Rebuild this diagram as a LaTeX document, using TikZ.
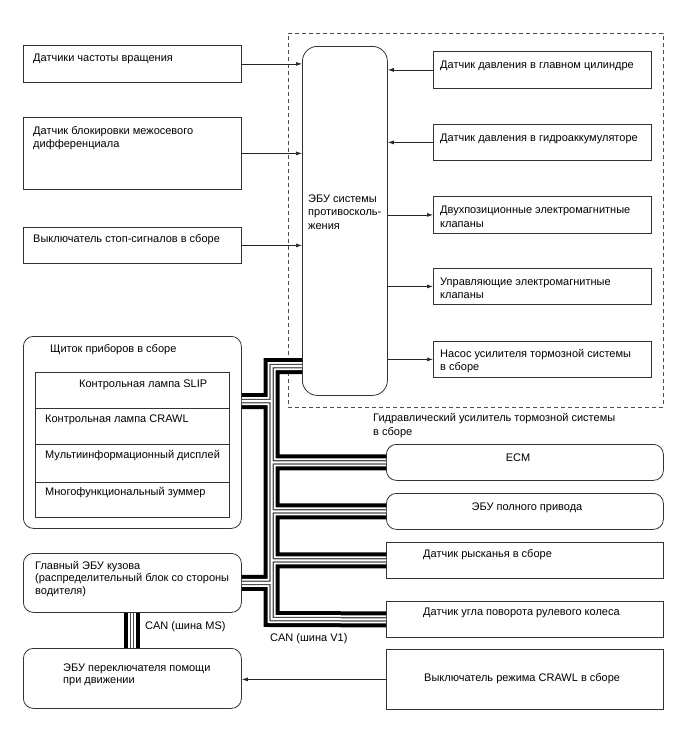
\documentclass[tikz,border=0pt]{standalone}
\usepackage{fontspec}
\setmainfont{Liberation Sans}
\usetikzlibrary{arrows.meta}
\begin{document}
\begin{tikzpicture}[x=1pt,y=-1pt,
  box/.style={draw=black!80, line width=0.8pt, inner sep=0pt, anchor=north west},
  rbox/.style={box, rounded corners=10pt},
  txt/.style={inner sep=0pt, anchor=base west, align=left, font=\fontsize{11}{13.5}\selectfont},
  ctxt/.style={txt, anchor=base},
  arr/.style={draw=black!85, line width=0.7pt, -{Latex[length=6pt,width=4pt]}},
  dashbox/.style={box, draw=black!70, dash pattern=on 4pt off 3pt},
]
\useasboundingbox (0,0) rectangle (688,755);

% dashed frame of the hydraulic brake booster
\node[dashbox, minimum width=375pt, minimum height=374pt] (hyd) at (288,33) {};

% left sensors
\node[box, minimum width=218pt, minimum height=37pt] (a) at (23,45) {};
\node[box, minimum width=218pt, minimum height=72pt] (b) at (23,117) {};
\node[box, minimum width=218pt, minimum height=36pt] (c) at (23,227) {};

% ECU
\node[box, rounded corners=15pt, minimum width=85pt, minimum height=349pt] (ecu) at (302,46) {};

% right boxes inside frame
\node[box, minimum width=218pt, minimum height=37pt] (r1) at (433,51) {};
\node[box, minimum width=218pt, minimum height=36pt] (r2) at (433,124) {};
\node[box, minimum width=218pt, minimum height=37pt] (r3) at (433,196) {};
\node[box, minimum width=218pt, minimum height=36pt] (r4) at (433,268) {};
\node[box, minimum width=218pt, minimum height=36pt] (r5) at (433,341) {};

% instrument cluster
\node[rbox, minimum width=218pt, minimum height=192pt] (ip) at (23,336) {};
\node[box, minimum width=194pt, minimum height=36pt] (ip1) at (35,372) {};
\node[box, minimum width=194pt, minimum height=36pt] (ip2) at (35,408) {};
\node[box, minimum width=194pt, minimum height=38pt] (ip3) at (35,444) {};
\node[box, minimum width=194pt, minimum height=35pt] (ip4) at (35,482) {};

% body ECU and assist switch ECU
\node[rbox, minimum width=218pt, minimum height=59pt] (body) at (23,553) {};
\node[rbox, minimum width=218pt, minimum height=60pt] (asst) at (23,648) {};

% CAN devices
\node[rbox, minimum width=277pt, minimum height=36pt] (ecm) at (386,444) {};
\node[rbox, minimum width=277pt, minimum height=36pt] (awd) at (386,493) {};
\node[box, minimum width=277pt, minimum height=36pt] (yaw) at (386,542) {};
\node[box, minimum width=277pt, minimum height=36pt] (steer) at (386,601) {};
\node[box, minimum width=277pt, minimum height=60pt] (sw) at (386,649) {};

% bus junctions
\coordinate (jt) at (271.5,366);
\coordinate (jb) at (271.5,619);
\coordinate (ji) at (271.5,401);
\coordinate (ms) at (132,0);

% CAN buses (layered)
\foreach \w/\c in {16/black, 8/white, 4.5/black!70, 2/white} {
  \draw[line width=\w pt, draw=\c, line join=miter]
    (ecu.west |- jt) -- (jt) -- (jb) -- (steer.west)
    (ip.east |- ji) -- (ji)
    (body.east) -- (body.east -| jt)
    (ecm.west -| jt) -- (ecm.west)
    (awd.west -| jt) -- (awd.west)
    (yaw.west -| jt) -- (yaw.west);
  \draw[line width=\w pt, draw=\c] (body.south -| ms) -- (asst.north -| ms);
}

% arrows
\draw[arr] (a.east) -- (a.east -| ecu.west);
\draw[arr] (b.east) -- (b.east -| ecu.west);
\draw[arr] (c.east) -- (c.east -| ecu.west);
\draw[arr] (r1.west) -- (r1.west -| ecu.east);
\draw[arr] (r2.west) -- (r2.west -| ecu.east);
\draw[arr] (r3.west -| ecu.east) -- (r3.west);
\draw[arr] (r4.west -| ecu.east) -- (r4.west);
\draw[arr] (r5.west -| ecu.east) -- (r5.west);
\draw[arr] (sw.west) -- (sw.west -| asst.east);

% texts (anchor = baseline of the last line)
\node[txt] (ta) at (33,61) {Датчики частоты вращения};
\node[txt] (tb) at (33,147.5) {Датчик блокировки межосевого\\дифференциала};
\node[txt] (tc) at (33,242) {Выключатель стоп-сигналов в сборе};
\node[txt] (t1) at (440,68) {Датчик давления в главном цилиндре};
\node[txt] (t2) at (440,141) {Датчик давления в гидроаккумуляторе};
\node[txt] (t3) at (440,227) {Двухпозиционные электромагнитные\\клапаны};
\node[txt] (t4) at (440,298.5) {Управляющие электромагнитные\\клапаны};
\node[txt] (t5) at (440,370.5) {Насос усилителя тормозной системы\\в сборе};
\node[txt] (tecu) at (308,229) {ЭБУ системы\\противосколь-\\жения};
\node[txt] (thyd) at (373,435) {Гидравлический усилитель тормозной системы\\в сборе};
\node[txt] (tip) at (50,352) {Щиток приборов в сборе};
\node[txt] (tr1) at (79,387) {Контрольная лампа SLIP};
\node[txt] (tr2) at (45,422) {Контрольная лампа CRAWL};
\node[txt] (tr3) at (45,458) {Мультиинформационный дисплей};
\node[txt] (tr4) at (45,495) {Многофункциональный зуммер};
\node[txt, font=\fontsize{11}{12.5}\selectfont] (tbody) at (35,594) {Главный ЭБУ кузова\\(распределительный блок со стороны\\водителя)};
\node[txt, font=\fontsize{11}{12}\selectfont] (tasst) at (63,683) {ЭБУ переключателя помощи\\при движении};
\node[ctxt] (tecm) at (518,461) {ECM};
\node[ctxt] (tawd) at (527,510) {ЭБУ полного привода};
\node[txt] (tyaw) at (423,557) {Датчик рысканья в сборе};
\node[txt] (tsteer) at (423,615) {Датчик угла поворота рулевого колеса};
\node[txt] (tsw) at (424,681) {Выключатель режима CRAWL в сборе};
\node[txt] (tms) at (145,629) {CAN (шина MS)};
\node[txt] (tv1) at (270,641) {CAN (шина V1)};
\end{tikzpicture}
\end{document}
